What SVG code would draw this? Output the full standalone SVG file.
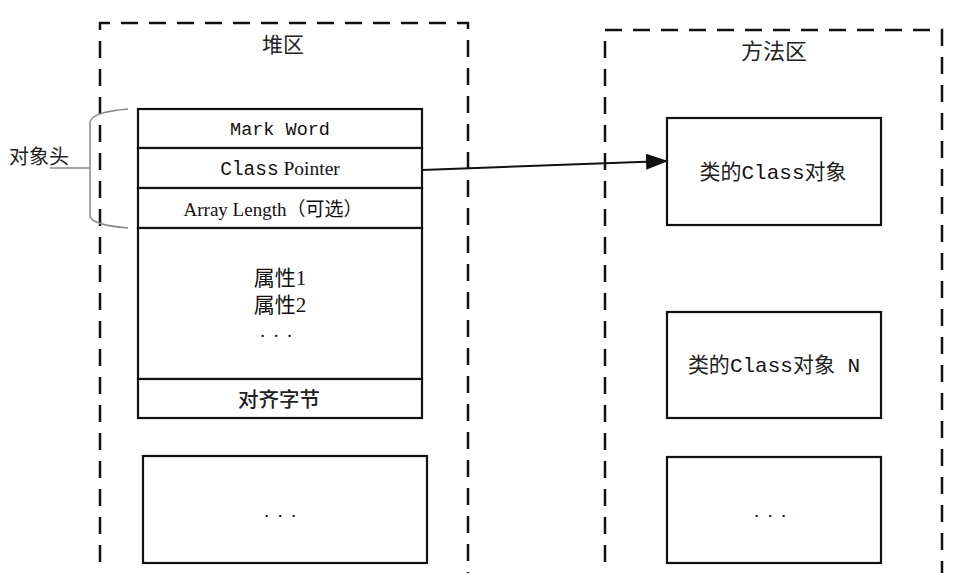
<svg xmlns="http://www.w3.org/2000/svg" width="953" height="573" viewBox="0 0 953 573">
<style>
.area{fill:none;stroke:#111;stroke-width:2.5;stroke-dasharray:17 11}
.box{fill:#fff;stroke:#111;stroke-width:2.2}
.cjk{font-family:"Noto Sans CJK SC",sans-serif;fill:#222}
.ser{font-family:"Liberation Serif","Noto Sans CJK SC",serif;fill:#111}
.mono{font-family:"Liberation Mono","Noto Sans CJK SC",monospace;fill:#111}
.brace{fill:none;stroke:#888;stroke-width:1.5}
</style>
<defs>
<marker id="ah" markerWidth="22" markerHeight="16" refX="21" refY="8" orient="auto" markerUnits="userSpaceOnUse">
<path d="M0,0 L22,8 L0,16 Z" fill="#111"/>
</marker>
</defs>
<rect fill="#fff" x="0" y="0" width="953" height="573"/>
<g id="heap">
<path class="area" d="M100,590 L100,23 L468,23 L468,590"/>
<text class="cjk" x="283" y="52" font-size="21" text-anchor="middle">堆区</text>
</g>
<g id="method-area">
<path class="area" d="M605,590 L605,30 L942,30 L942,590"/>
<text class="cjk" x="774" y="59" font-size="22" text-anchor="middle">方法区</text>
</g>
<g id="object-header-label">
<path class="brace" d="M128,109 Q92,112 90,122 L90,216 Q92,225 128,228"/>
<line class="brace" x1="50" y1="168" x2="90" y2="168"/>
<text class="cjk" x="39" y="164" font-size="20" text-anchor="middle" fill="#111">对象头</text>
</g>
<g id="mark-word">
<rect class="box" x="138" y="109" width="284" height="39"/>
<text class="mono" x="280" y="135" font-size="18.5" text-anchor="middle">Mark Word</text>
</g>
<g id="class-pointer">
<rect class="box" x="138" y="148" width="284" height="40"/>
<text x="280" y="175" font-size="19.5" text-anchor="middle"><tspan class="mono">Class</tspan><tspan class="ser"> Pointer</tspan></text>
</g>
<g id="array-length">
<rect class="box" x="138" y="188" width="284" height="40"/>
<text class="ser" x="273" y="216" font-size="19" text-anchor="middle">Array Length（可选）</text>
</g>
<g id="fields">
<rect class="box" x="138" y="228" width="284" height="151"/>
<text class="ser" x="280" y="285" font-size="21" text-anchor="middle">属性1</text>
<text class="ser" x="280" y="312" font-size="21" text-anchor="middle">属性2</text>
<text class="ser" x="277" y="337" font-size="19" text-anchor="middle" letter-spacing="2">. . .</text>
</g>
<g id="padding">
<rect class="box" x="138" y="379" width="284" height="39"/>
<text class="cjk" x="279" y="407" font-size="20.5" text-anchor="middle" font-weight="500" fill="#111">对齐字节</text>
</g>
<g id="heap-more">
<rect class="box" x="143" y="456" width="284" height="107"/>
<text class="ser" x="281" y="517" font-size="19" text-anchor="middle" letter-spacing="2">. . .</text>
</g>
<g id="class-object">
<rect class="box" x="667" y="118" width="214" height="107"/>
<text x="773" y="179" font-size="21" text-anchor="middle"><tspan class="cjk">类的</tspan><tspan class="mono">Class</tspan><tspan class="cjk">对象</tspan></text>
</g>
<g id="class-object-n">
<rect class="box" x="667" y="312" width="214" height="106"/>
<text x="774" y="372" font-size="21" text-anchor="middle"><tspan class="cjk">类的</tspan><tspan class="mono">Class</tspan><tspan class="cjk">对象</tspan><tspan class="mono"> N</tspan></text>
</g>
<g id="method-more">
<rect class="box" x="667" y="457" width="214" height="106"/>
<text class="ser" x="771" y="517" font-size="19" text-anchor="middle" letter-spacing="2">. . .</text>
</g>
<g id="connectors">
<line x1="422" y1="170" x2="667" y2="161" stroke="#111" stroke-width="2" marker-end="url(#ah)"/>
</g>
</svg>
